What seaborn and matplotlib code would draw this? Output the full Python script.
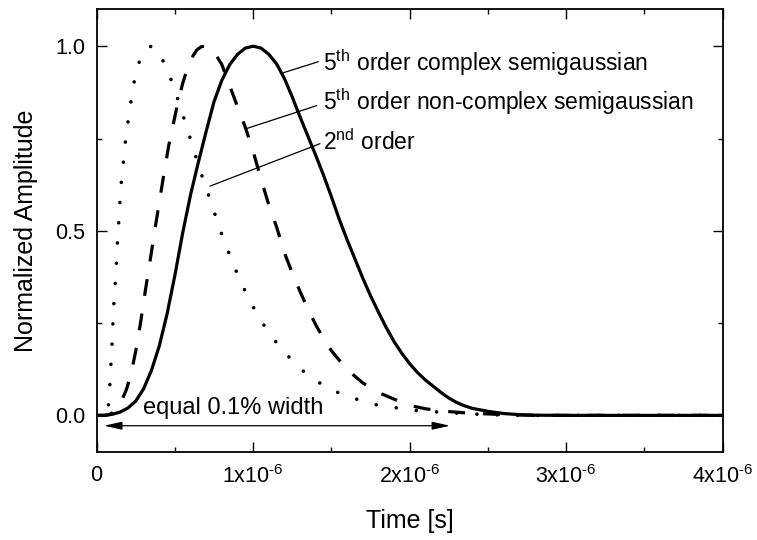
import numpy as np
import pandas as pd
import matplotlib
matplotlib.use("Agg")
import matplotlib.pyplot as plt
from matplotlib.ticker import FixedLocator
import seaborn as sns

# ---- data (time in microseconds) ----
t_complex = [0, 0.05, 0.10, 0.15, 0.20, 0.25, 0.30, 0.35, 0.40, 0.45, 0.50, 0.55, 0.60, 0.65,
             0.70, 0.75, 0.80, 0.85, 0.90, 0.95, 1.00, 1.05, 1.10, 1.15, 1.20, 1.25, 1.30, 1.35,
             1.40, 1.45, 1.50, 1.55, 1.60, 1.65, 1.70, 1.75, 1.80, 1.85, 1.90, 1.95, 2.00, 2.05,
             2.10, 2.15, 2.20, 2.25, 2.30, 2.35, 2.40, 2.45, 2.50, 2.60, 2.70, 2.80, 3.00, 4.00]
y_complex = [0, 0.0003, 0.003, 0.009, 0.020, 0.039, 0.072, 0.122, 0.188, 0.275, 0.38, 0.495,
             0.598, 0.686, 0.77, 0.85, 0.908, 0.95, 0.978, 0.995, 1.0, 0.995, 0.978, 0.952, 0.912,
             0.862, 0.808, 0.756, 0.704, 0.65, 0.592, 0.531, 0.476, 0.424, 0.372, 0.324, 0.28,
             0.238, 0.2, 0.168, 0.14, 0.116, 0.096, 0.079, 0.062, 0.047, 0.035, 0.026, 0.019,
             0.015, 0.011, 0.005, 0.002, 0.0005, 0, 0]

t_noncomplex = [0, 0.05, 0.08, 0.10, 0.13, 0.16, 0.19, 0.22, 0.25, 0.28, 0.31, 0.34, 0.37, 0.40,
                0.43, 0.46, 0.49, 0.52, 0.55, 0.58, 0.61, 0.64, 0.67, 0.70, 0.73, 0.76, 0.80,
                0.85, 0.90, 0.95, 1.00, 1.05, 1.10, 1.15, 1.20, 1.25, 1.30, 1.35, 1.40, 1.45,
                1.50, 1.60, 1.70, 1.80, 1.90, 2.00, 2.10, 2.20, 2.35, 2.55, 2.80, 4.00]
y_noncomplex = [0, 0, 0.002, 0.007, 0.02, 0.04, 0.07, 0.113, 0.175, 0.25, 0.335, 0.415, 0.498,
                0.577, 0.655, 0.73, 0.79, 0.85, 0.9, 0.94, 0.97, 0.99, 0.999, 1.0, 0.993, 0.978,
                0.95, 0.893, 0.836, 0.78, 0.715, 0.64, 0.57, 0.51, 0.44, 0.385, 0.335, 0.288,
                0.245, 0.208, 0.175, 0.124, 0.088, 0.062, 0.044, 0.027, 0.018, 0.012, 0.007,
                0.003, 0, 0]

t_second = [0, 0.06, 0.074, 0.083, 0.089, 0.096, 0.102, 0.106, 0.113, 0.122, 0.128, 0.134, 0.142,
            0.149, 0.157, 0.17, 0.181, 0.196, 0.213, 0.23, 0.245, 0.256, 0.27, 0.29, 0.31, 0.33,
            0.35, 0.37, 0.39, 0.404, 0.43, 0.462, 0.505, 0.543, 0.581, 0.617, 0.654, 0.692,
            0.735, 0.773, 0.815, 0.863, 0.911, 0.969, 1.033, 1.107, 1.203, 1.32, 1.438, 1.565,
            1.682, 1.8, 1.906, 2.013, 2.258, 2.492, 2.7, 4.0]
y_second = [0, 0, 0.022, 0.073, 0.124, 0.174, 0.226, 0.277, 0.325, 0.376, 0.426, 0.48, 0.529,
            0.579, 0.63, 0.68, 0.732, 0.783, 0.833, 0.882, 0.915, 0.934, 0.955, 0.975, 0.989,
            0.997, 1.0, 0.997, 0.988, 0.977, 0.955, 0.925, 0.874, 0.824, 0.774, 0.723, 0.673,
            0.624, 0.572, 0.522, 0.471, 0.421, 0.37, 0.319, 0.268, 0.219, 0.169, 0.12, 0.084,
            0.057, 0.041, 0.027, 0.021, 0.014, 0.007, 0.002, 0, 0]

x_ticks_us = [0, 1, 2, 3, 4]
x_minor_us = [0.5, 1.5, 2.5, 3.5]
x_tick_labels = ["0", "1x10$^{\\text{-}6}$", "2x10$^{\\text{-}6}$", "3x10$^{\\text{-}6}$",
                 "4x10$^{\\text{-}6}$"]
y_ticks = [0.0, 0.5, 1.0]
y_minor = [0.25, 0.75]
y_tick_labels = ["0.0", "0.5", "1.0"]
curve_labels = ["5$^{th}$ order complex semigaussian",
                "5$^{th}$ order non-complex semigaussian",
                "2$^{nd}$ order"]
width_label = "equal 0.1% width"

US = 1e-6

sns.set_theme(style="ticks")
plt.rcParams["font.family"] = ["Liberation Sans", "DejaVu Sans"]
plt.rcParams["mathtext.fontset"] = "custom"
plt.rcParams["mathtext.rm"] = "Liberation Sans"
plt.rcParams["mathtext.it"] = "Liberation Sans:italic"
plt.rcParams["mathtext.default"] = "regular"

fig = plt.figure(figsize=(7.57, 5.40), dpi=100)
ax = fig.add_axes([0.1277, 0.1624, 0.8270, 0.8204])

df_c = pd.DataFrame({"t": np.array(t_complex) * US, "y": y_complex})
df_n = pd.DataFrame({"t": np.array(t_noncomplex) * US, "y": y_noncomplex})
df_s = pd.DataFrame({"t": np.array(t_second) * US, "y": y_second})

sns.lineplot(data=df_s, x="t", y="y", ax=ax, color="black", linewidth=2.6,
             linestyle=(0, (0.01, 5.6)), dash_capstyle="round", estimator=None, sort=False)
sns.lineplot(data=df_n, x="t", y="y", ax=ax, color="black", linewidth=2.3,
             linestyle=(0, (5.3, 5.6)), dash_capstyle="butt", estimator=None, sort=False)
sns.lineplot(data=df_c, x="t", y="y", ax=ax, color="black", linewidth=2.3,
             estimator=None, sort=False)

ax.set_xlim(0, 4 * US)
ax.set_ylim(-0.1, 1.1)

ax.xaxis.set_major_locator(FixedLocator([v * US for v in x_ticks_us]))
ax.xaxis.set_minor_locator(FixedLocator([v * US for v in x_minor_us]))
ax.set_xticklabels(x_tick_labels)
ax.yaxis.set_major_locator(FixedLocator(y_ticks))
ax.yaxis.set_minor_locator(FixedLocator(y_minor))
ax.set_yticklabels(y_tick_labels)

ax.tick_params(which="both", direction="in", top=True, right=True, color="black", width=1.0)
ax.tick_params(which="major", length=7)
ax.tick_params(which="minor", length=3.5)
ax.tick_params(axis="x", which="major", labelsize=15.5, pad=9, labelcolor="black")
ax.tick_params(axis="y", which="major", labelsize=15.5, pad=8.4, labelcolor="black")
for sp in ax.spines.values():
    sp.set_linewidth(1.3)
    sp.set_color("black")

ax.set_xlabel("Time [s]", fontsize=18, color="black")
ax.set_ylabel("Normalized Amplitude", fontsize=18, color="black")
ax.xaxis.set_label_coords(0.5, -0.128)
ax.yaxis.set_label_coords(-0.093, 0.5)

# curve labels with leader lines
text_x = 1.446 * US
text_y = [0.934, 0.826, 0.718]
leader_from = [(1.192 * US, 0.928), (0.958 * US, 0.777), (0.724 * US, 0.621)]
leader_to = [(1.416 * US, 0.958), (1.406 * US, 0.839), (1.427 * US, 0.736)]
for lab, ty, p0, p1 in zip(curve_labels, text_y, leader_from, leader_to):
    ax.text(text_x, ty, lab, fontsize=16.5, ha="left", va="baseline", color="black")
    ax.annotate("", xy=p0, xytext=p1,
                arrowprops=dict(arrowstyle="-", lw=0.9, color="black", shrinkA=0, shrinkB=0))

# equal width double arrow
ax.annotate("", xy=(0.047 * US, -0.028), xytext=(2.258 * US, -0.028),
            arrowprops=dict(arrowstyle="<|-|>,head_length=0.9,head_width=0.2", lw=0.9,
                            color="black", shrinkA=0, shrinkB=0))
ax.text(0.298 * US, 0.003, width_label, fontsize=17, ha="left", va="baseline", color="black")

fig.savefig("out.png", dpi=100)
